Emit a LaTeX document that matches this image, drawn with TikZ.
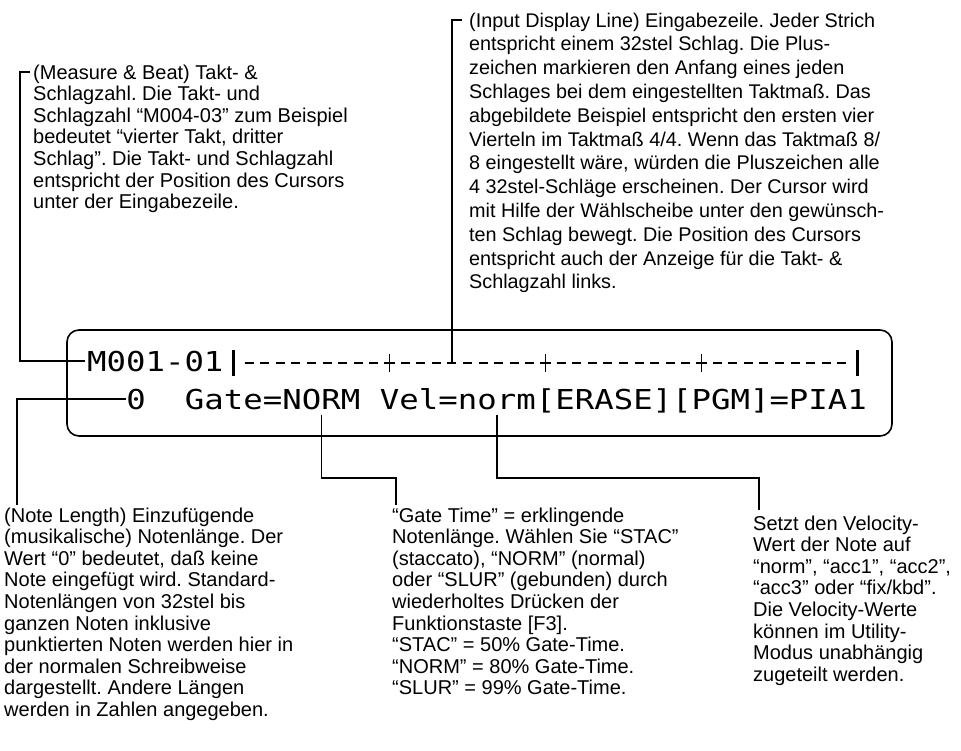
\documentclass[tikz,border=0pt]{standalone}
\usepackage{fontspec}
\setmainfont{Liberation Sans}
\newfontfamily\lcdfont[FakeStretch=1.18]{DejaVu Sans Mono}
\frenchspacing

\tikzset{
  leader/.style={line width=1.3pt},
  note/.style={align=left,anchor=north west,inner sep=0pt,font=\fontsize{20}{21.6}\selectfont},
  lcdtext/.style={anchor=base west,inner sep=0pt,font=\lcdfont\fontsize{27.4}{30}\selectfont},
  lcdbox/.style={draw,line width=1.6pt,rounded corners=12pt,minimum width=825pt,minimum height=106pt,inner sep=0pt}
}

\begin{document}
\begin{tikzpicture}[x=1pt,y=-1pt]
\useasboundingbox (0,0) rectangle (961,751);

% Display
\node[lcdbox] (lcd) at (479.5,383) {};
\node[lcdtext] (meas) at (87,371) {M001-01};

% Ruler: 32nd ticks and beat marks
\foreach \b in {0,...,3}{
  \foreach \k in {1,...,9}
    \draw[line width=2pt] ({233.5+156*\b+15.6*\k-4.5},363) -- ++(9,0);
}
\foreach \x in {389.5,545.5,701.5}
  \draw[line width=1.6pt] (\x,354) -- (\x,372) (\x-5.5,363) -- (\x+5.5,363);
\draw[line width=2.5pt] (233.5,350) -- (233.5,376) (857.5,350) -- (857.5,376);
\coordinate (cursor) at (452,362);

% Second line
\node[lcdtext] (zero) at (126.25,409) {0};
\node[lcdtext] (gatekey) at (184.75,409) {Gate=};
\node[lcdtext] (gateval) at (282.25,409) {NORM};
\node[lcdtext] (velkey) at (379.75,409) {Vel=};
\node[lcdtext] (velval) at (457.75,409) {norm};
\node[lcdtext] (rest) at (535.75,409) {[ERASE][PGM]=PIA1};

% Explanations
\node[note] (measNote) at (33,64.5) {(Measure \& Beat) Takt- \&\\
Schlagzahl. Die Takt- und\\
Schlagzahl “M004-03” zum Beispiel\\
bedeutet “vierter Takt, dritter\\
Schlag”. Die Takt- und Schlagzahl\\
entspricht der Position des Cursors\\
unter der Eingabezeile.};

\node[note,font=\fontsize{19.8}{23.8}\selectfont] (inputNote) at (469,12.6) {(Input Display Line) Eingabezeile. Jeder Strich\\
entspricht einem 32stel Schlag. Die Plus-\\
zeichen markieren den Anfang eines jeden\\
Schlages bei dem eingestellten Taktmaß. Das\\
abgebildete Beispiel entspricht den ersten vier\\
Vierteln im Taktmaß 4/4. Wenn das Taktmaß 8/\\
8 eingestellt wäre, würden die Pluszeichen alle\\
4 32stel-Schläge erscheinen. Der Cursor wird\\
mit Hilfe der Wählscheibe unter den gewünsch-\\
ten Schlag bewegt. Die Position des Cursors\\
entspricht auch der Anzeige für die Takt- \&\\
Schlagzahl links.};

\node[note] (lenNote) at (4,507.5) {(Note Length) Einzufügende\\
(musikalische) Notenlänge. Der\\
Wert “0” bedeutet, daß keine\\
Note eingefügt wird. Standard-\\
Notenlängen von 32stel bis\\
ganzen Noten inklusive\\
punktierten Noten werden hier in\\
der normalen Schreibweise\\
dargestellt. Andere Längen\\
werden in Zahlen angegeben.};

\node[note] (gateNote) at (392,507.5) {“Gate Time” = erklingende\\
Notenlänge. Wählen Sie “STAC”\\
(staccato), “NORM” (normal)\\
oder “SLUR” (gebunden) durch\\
wiederholtes Drücken der\\
Funktionstaste [F3].\\
“STAC” = 50\% Gate-Time.\\
“NORM” = 80\% Gate-Time.\\
“SLUR” = 99\% Gate-Time.};

\node[note] (velNote) at (753,515.5) {Setzt den Velocity-\\
Wert der Note auf\\
“norm”, “acc1”, “acc2”,\\
“acc3” oder “fix/kbd”.\\
Die Velocity-Werte\\
können im Utility-\\
Modus unabhängig\\
zugeteilt werden.};

% Leaders
\coordinate (measTop) at (30,72);
\coordinate (inputTop) at (462,20);
\coordinate (lenTop) at (17,505);
\coordinate (gateKnee) at (396,478);
\coordinate (gateTop) at (396,505);
\coordinate (velKnee) at (759,478);
\coordinate (velTop) at (759,510);
\draw[leader] (measTop) -- ++(-10,0) |- ([xshift=-2pt]meas.west);
\draw[leader] (inputTop) -- ++(-10,0) |- (cursor);
\draw[leader] (zero.west) -| (lenTop);
\draw[leader] ([yshift=-5pt]gateval.south) |- (gateKnee) -- (gateTop);
\draw[leader] ([yshift=-5pt]velval.south) |- (velKnee) -- (velTop);
\end{tikzpicture}
\end{document}
